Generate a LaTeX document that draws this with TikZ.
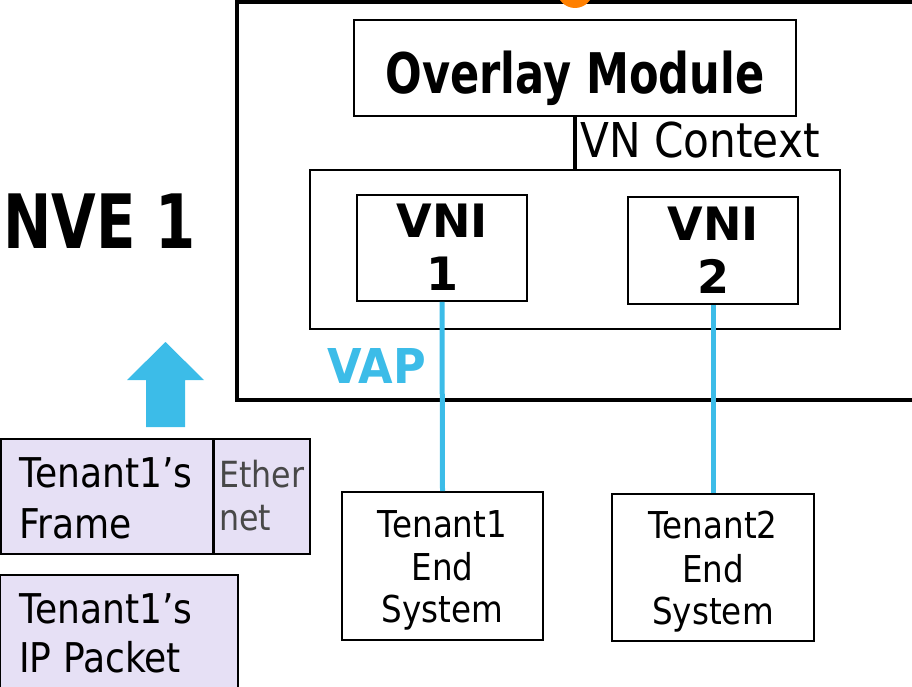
\documentclass[tikz,border=0pt]{standalone}
\usepackage{fontspec}
\setmainfont{DejaVu Sans}
\newfontfamily\slimfont[FakeStretch=0.88]{DejaVu Sans}
\newfontfamily\headfont[FakeStretch=0.77]{DejaVu Sans}
\newfontfamily\vapfont[FakeStretch=0.93]{DejaVu Sans}
\definecolor{vapblue}{RGB}{60,188,232}
\definecolor{orangedot}{RGB}{255,128,0}
\definecolor{lavender}{RGB}{230,224,245}
\definecolor{ethgray}{RGB}{72,72,72}
\tikzset{
  box/.style={draw, line width=1.8pt, inner sep=0pt},
  headtxt/.style={font=\headfont\bfseries\fontsize{#1}{#1}\selectfont, inner sep=0pt},
  vnitxt/.style={anchor=base, inner sep=0pt, font=\bfseries\fontsize{46}{46}\selectfont},
  linetxt/.style={anchor=base west, inner sep=0pt, font=\slimfont\fontsize{#1}{#1}\selectfont},
  midtxt/.style={anchor=base, inner sep=0pt, font=\slimfont\fontsize{37}{37}\selectfont},
  vaplink/.style={draw=vapblue, line width=5pt},
  pdu/.style={draw, line width=2pt, fill=lavender},
}
\begin{document}
\begin{tikzpicture}[x=1pt,y=-1pt]
\useasboundingbox (0,0) rectangle (912,687);

% NVE housing, running past the right edge
\node[draw, line width=3.6pt, minimum width=690pt, minimum height=398pt, inner sep=0pt] (nve) at (582,201) {};
\fill[orangedot] (575,-10) circle (18);

% overlay module and VN context
\node[box, minimum width=442pt, minimum height=96pt] (overlay) at (575,68) {};
\node[headtxt=56, anchor=base] (overlaytxt) at (575,94) {Overlay Module};
\node[box, minimum width=530pt, minimum height=159pt] (inner) at (575,249.5) {};
\draw[line width=4pt] (overlay.south -| 575,0) -- (inner.north -| 575,0);
\node[linetxt=48] (ctx) at (580,158) {VN Context};

% virtual network instances
\node[box, minimum width=170pt, minimum height=106pt] (vni1) at (442,248) {};
\node[vnitxt] (vni1a) at (442,237) {VNI};
\node[vnitxt] (vni1b) at (442,290) {1};
\node[box, minimum width=170pt, minimum height=107pt] (vni2) at (713,250.5) {};
\node[vnitxt] (vni2a) at (713,240) {VNI};
\node[vnitxt] (vni2b) at (713,293) {2};
\node[anchor=base west, inner sep=0pt, font=\vapfont\bfseries\fontsize{48}{48}\selectfont, text=vapblue] (vap) at (327,383) {VAP};

% tenant end systems
\node[box, minimum width=201pt, minimum height=148pt] (t1) at (442.5,566) {};
\node[midtxt] (t1a) at (442.5,537) {Tenant1};
\node[midtxt] (t1b) at (442.5,580) {End};
\node[midtxt] (t1c) at (442.5,622) {System};
\node[box, minimum width=202pt, minimum height=147pt] (t2) at (713,567.5) {};
\node[midtxt] (t2a) at (713,538) {Tenant2};
\node[midtxt] (t2b) at (713,582) {End};
\node[midtxt] (t2c) at (713,624) {System};
\draw[vaplink] (vni1.south) -- (t1.north);
\draw[vaplink] (vni2.south) -- (t2.north);

% NVE label and upward block arrow
\node[headtxt=75, anchor=base west] (nvelabel) at (3,248) {NVE 1};
\fill[vapblue] (146,427) -- (146,380) -- (127,380) -- (165.5,342) -- (204,380) -- (185,380) -- (185,427) -- cycle;

% tenant frame with ethernet header
\node[pdu, minimum width=309pt, minimum height=115pt] (frame) at (155.5,496.5) {};
\draw[line width=3pt] (213,0 |- frame.north) -- (213,0 |- frame.south);
\node[linetxt=41] (frameA) at (19,487) {Tenant1’s};
\node[linetxt=41] (frameB) at (19,538) {Frame};
\node[linetxt=36, text=ethgray] (ethA) at (219,487) {Ether};
\node[linetxt=36, text=ethgray] (ethB) at (219,530) {net};

% tenant ip packet
\node[pdu, minimum width=238pt, minimum height=118pt] (packet) at (119,634) {};
\node[linetxt=41] (packetA) at (19,623) {Tenant1’s};
\node[linetxt=41] (packetB) at (19,672) {IP Packet};
\end{tikzpicture}
\end{document}
